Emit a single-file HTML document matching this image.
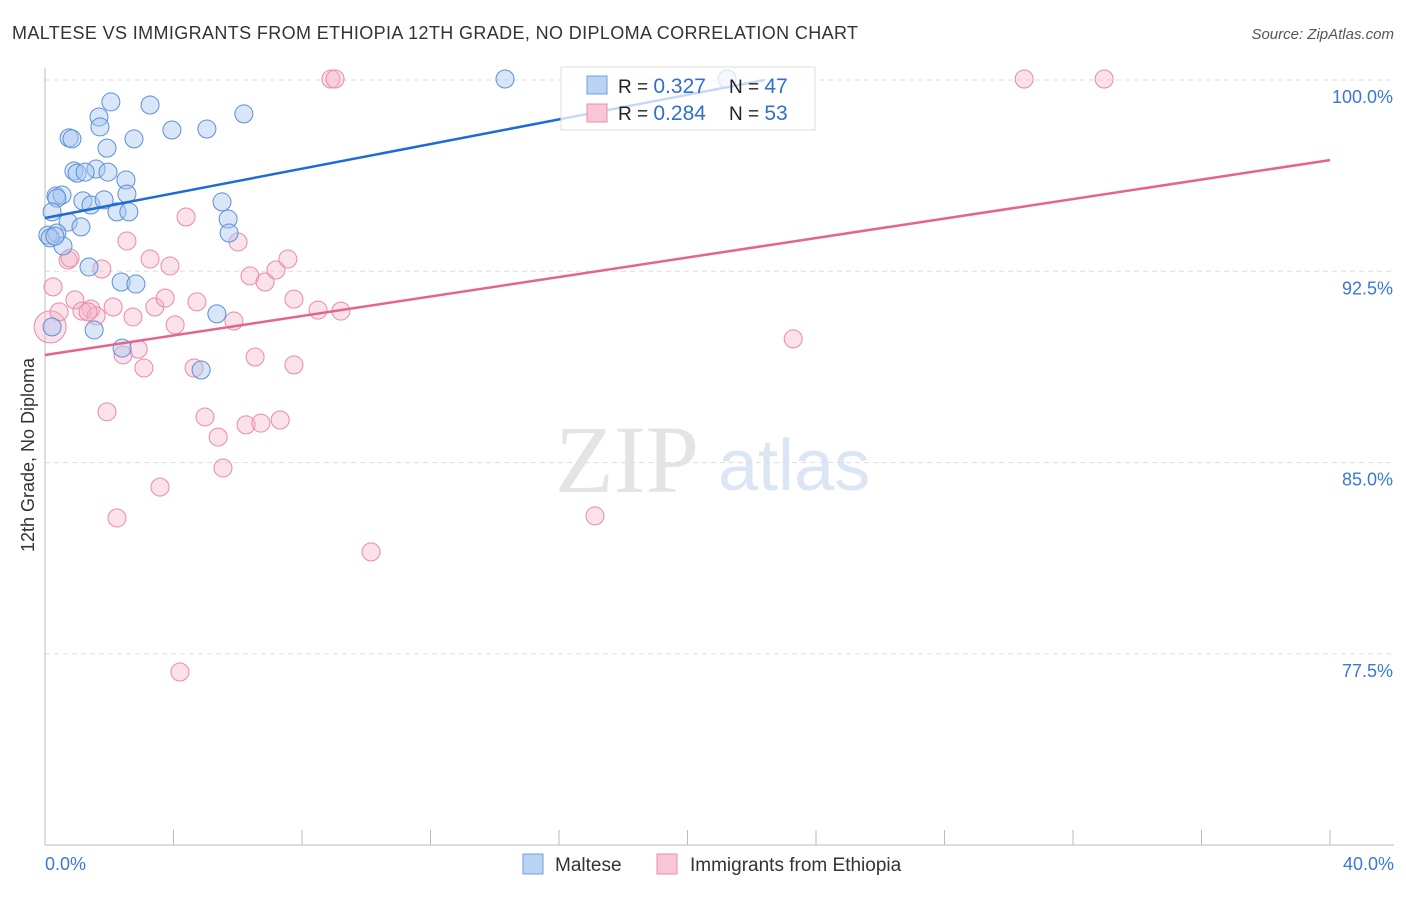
<!DOCTYPE html>
<html><head><meta charset="utf-8"><style>
body{margin:0;background:#fff;font-family:"Liberation Sans",sans-serif;}
</style></head><body>
<svg width="1406" height="892" xmlns="http://www.w3.org/2000/svg" id="chart">
<text x="12" y="39" font-size="18" fill="#333" textLength="846">MALTESE VS IMMIGRANTS FROM ETHIOPIA 12TH GRADE, NO DIPLOMA CORRELATION CHART</text>
<text x="1394" y="39" font-size="15" fill="#555" font-style="italic" text-anchor="end">Source: ZipAtlas.com</text>
<text transform="translate(34,455) rotate(-90)" font-size="18" fill="#333" text-anchor="middle">12th Grade, No Diploma</text>
<text x="555" y="492" font-size="96" fill="#e4e4e4" font-family="Liberation Serif,serif">ZIP</text>
<text x="718" y="490" font-size="72" fill="#dbe6f5">atlas</text>
<g id="grid"></g><g id="pts"></g><g id="lines"></g>
<g>
<rect x="561" y="67" width="254" height="63" fill="#fff" fill-opacity="0.75" stroke="#ddd"/>
<rect x="587" y="76" width="20" height="18" fill="#b9d3f5" stroke="#6f9fe0"/>
<rect x="587" y="104" width="20" height="18" fill="#f9c6d6" stroke="#ea8fae"/>
<text x="618" y="93" font-size="19" fill="#222">R = <tspan fill="#2f6fd0" font-size="21">0.327</tspan></text>
<text x="729" y="93" font-size="19" fill="#222">N = <tspan fill="#2f6fd0" font-size="21">47</tspan></text>
<text x="618" y="120" font-size="19" fill="#222">R = <tspan fill="#2f6fd0" font-size="21">0.284</tspan></text>
<text x="729" y="120" font-size="19" fill="#222">N = <tspan fill="#2f6fd0" font-size="21">53</tspan></text>
</g>
<g>
<rect x="523" y="854" width="20" height="20" fill="#b9d3f5" stroke="#6f9fe0"/>
<text x="555" y="871" font-size="19" fill="#333">Maltese</text>
<rect x="657" y="854" width="20" height="20" fill="#f9c6d6" stroke="#ea8fae"/>
<text x="690" y="871" font-size="19" fill="#333">Immigrants from Ethiopia</text>
</g>
<text x="45" y="870" font-size="18" fill="#3a78d6">0.0%</text>
<text x="1394" y="870" font-size="18" fill="#3a78d6" text-anchor="end">40.0%</text>
</svg>
<script>
const yTicks=[100,92.5,85,77.5];
const yTickLabels=["100.0%","92.5%","85.0%","77.5%"];
const maltX=[2.05,1.68,1.71,3.27,3.95,5.04,6.19,0.75,0.84,1.93,2.77,0.90,1.00,1.59,1.25,1.96,2.52,2.55,0.34,0.53,0.37,1.18,1.43,1.84,2.24,2.61,5.51,5.70,5.73,0.72,1.12,0.22,0.09,0.37,0.56,1.37,2.37,2.83,5.35,1.53,2.40,4.86,14.32,21.23,0.22,0.16,0.31];
const maltY=[99.14,98.55,98.16,99.02,98.04,98.08,98.67,97.73,97.69,97.33,97.69,96.43,96.35,96.51,96.39,96.39,96.08,95.53,95.45,95.49,95.37,95.26,95.10,95.30,94.83,94.83,95.22,94.55,94.00,94.43,94.24,94.83,93.92,94.00,93.49,92.67,92.08,92.00,90.83,90.20,89.49,88.63,100.04,100.04,90.32,93.81,93.88];
const ethX=[8.90,9.03,30.48,32.97,4.39,6.01,2.55,0.72,0.78,1.77,3.27,3.89,6.38,6.85,7.19,7.56,0.25,0.93,2.12,1.43,1.15,1.59,2.74,3.42,3.74,4.05,4.73,5.88,7.75,8.50,9.21,0.16,0.44,2.90,2.43,3.08,4.64,6.54,7.75,23.29,1.93,4.98,5.39,6.26,6.72,7.32,5.54,3.58,2.24,17.12,10.15,4.20,1.34];
const ethY=[100.04,100.04,100.04,100.04,94.63,93.65,93.69,92.94,93.02,92.59,92.98,92.71,92.32,92.08,92.55,92.98,91.89,91.38,91.10,91.02,90.94,90.75,90.71,91.10,91.45,90.40,91.30,90.55,91.41,90.98,90.94,90.32,90.91,89.45,89.22,88.71,88.71,89.14,88.83,89.85,86.99,86.79,86.00,86.48,86.55,86.67,84.79,84.04,82.83,82.91,81.50,76.79,90.91];
const maltTrend=[0,94.59,22.4,100.0];
const ethTrend=[0,89.22,40,96.86];
const NS="http://www.w3.org/2000/svg";
const X=v=>45+v/40*1285, Y=v=>80+(100-v)/7.5*191.3;
function mk(t,a,p){const e=document.createElementNS(NS,t);for(const k in a)e.setAttribute(k,a[k]);p.appendChild(e);return e;}
const g=document.getElementById('grid'),svg=document.getElementById('chart');
yTicks.forEach((t,i)=>{
 const l=mk('line',{x1:45,x2:1394,y1:Y(t),y2:Y(t),stroke:'#ddd','stroke-dasharray':'5,4'},g);
 
 
 const tx=mk('text',{x:1393,y:Y(t)+23,'font-size':18,fill:'#3a78d6','text-anchor':'end'},g);
 tx.textContent=yTickLabels[i];
 
 
});
const ax=mk('line',{x1:45,x2:45,y1:68,y2:845,stroke:'#bbb'},g);


const bx=mk('line',{x1:45,x2:1394,y1:845,y2:845,stroke:'#bbb'},g);


for(let i=0;i<=10;i++){const t=mk('line',{x1:X(i*4),x2:X(i*4),y1:830,y2:845,stroke:'#bbb'},g);
 
 }
const p=document.getElementById('pts');
ethX.forEach((x,i)=>{const big=(i==31);const c=mk('circle',{cx:X(x),cy:Y(ethY[i]),r:big?16:9,fill:'#f6b5c9','fill-opacity':0.4,stroke:'#e98aa9','stroke-width':1},p);
 
 });
maltX.forEach((x,i)=>{const c=mk('circle',{cx:X(x),cy:Y(maltY[i]),r:9,fill:'#a8c8f0','fill-opacity':0.45,stroke:'#5b8fd8','stroke-width':1},p);
 
 });
const L=document.getElementById('lines');
const l1=mk('line',{x1:X(maltTrend[0]),y1:Y(maltTrend[1]),x2:X(maltTrend[2]),y2:Y(maltTrend[3]),stroke:'#1f6ad8','stroke-width':2.5},L);


const l2=mk('line',{x1:X(ethTrend[0]),y1:Y(ethTrend[1]),x2:X(ethTrend[2]),y2:Y(ethTrend[3]),stroke:'#e4648f','stroke-width':2.5},L);


</script>
</body></html>
